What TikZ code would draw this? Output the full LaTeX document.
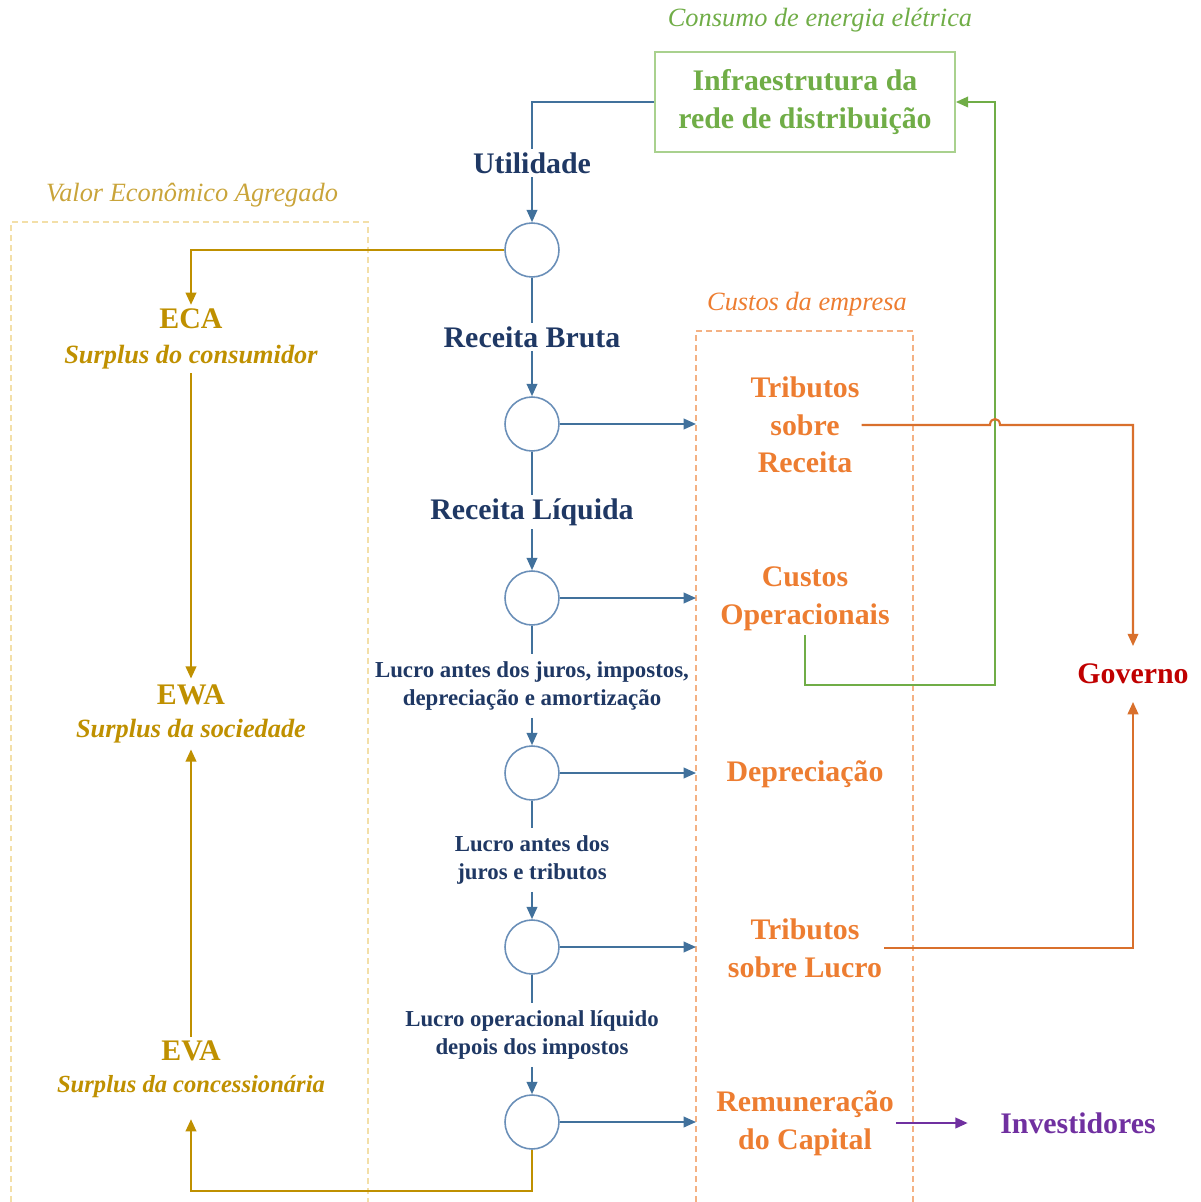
\documentclass[tikz,border=0pt]{standalone}
\usepackage{fontspec}
\setmainfont{Liberation Serif}
\usetikzlibrary{arrows.meta,calc}
\definecolor{navy}{HTML}{1F3864}
\definecolor{steel}{HTML}{41719C}
\definecolor{ringc}{HTML}{6A8FB8}
\definecolor{gold}{HTML}{BF9000}
\definecolor{goldlight}{HTML}{F3DFA8}
\definecolor{goldtitle}{HTML}{C9A43A}
\definecolor{orangeT}{HTML}{ED7D31}
\definecolor{orangeL}{HTML}{D9702C}
\definecolor{orangelight}{HTML}{F4B183}
\definecolor{greenT}{HTML}{70AD47}
\definecolor{greenB}{HTML}{A9D18E}
\definecolor{redG}{HTML}{C00000}
\definecolor{purp}{HTML}{7030A0}

\begin{document}
\begin{tikzpicture}[x=0.02cm,y=-0.02cm,
  tip/.style={-{Triangle[length=7pt,width=6pt]}},
  bline/.style={draw=steel,line width=1.1pt},
  gline/.style={draw=gold,line width=1.3pt},
  oline/.style={draw=orangeL,line width=1.2pt},
  grline/.style={draw=greenT,line width=1.2pt},
  pline/.style={draw=purp,line width=1.2pt},
  big/.style={font=\fontsize{17}{21.5}\selectfont\bfseries,align=center,inner xsep=1pt,inner ysep=2pt},
  small/.style={font=\fontsize{13}{16}\selectfont\bfseries,align=center,inner xsep=1pt,inner ysep=4pt},
  ttl/.style={font=\fontsize{15}{18}\selectfont\itshape},
  ring/.style={circle,draw=ringc,line width=0.9pt,minimum size=1.08cm,inner sep=0pt},
  valbox/.style={align=center,text=gold,inner sep=2pt,font=\bfseries},
  costbox/.style={dash pattern=on 3.4pt off 2.3pt,line width=0.6pt}
]
\useasboundingbox (0,0) rectangle (1200,1202);

% group frames
\draw[costbox,draw=goldlight] (11,1202) -- (11,222) -- (368,222) -- (368,1202);
\draw[costbox,draw=orangelight] (696,1202) -- (696,331) coordinate (cbx) -- (913,331) -- (913,1202);

% group titles
\node[ttl,text=greenT] (tconsumo) at (820,20) {Consumo de energia elétrica};
\node[ttl,text=goldtitle] (tvalor) at (192,195) {Valor Econômico Agregado};
\node[ttl,text=orangeT] (tcustos) at (807,304) {Custos da empresa};

% network infrastructure
\node[big,text=greenT,draw=greenB,line width=1pt,minimum width=6cm,minimum height=2cm] (infra) at (805,102)
  {Infraestrutura da\\rede de distribuição};

% main chain of results
\node[big,text=navy] (util) at (532,163) {Utilidade};
\node[ring] (c1) at (532,250) {};
\node[big,text=navy] (rb) at (532,337) {Receita Bruta};
\node[ring] (c2) at (532,424) {};
\node[big,text=navy] (rl) at (532,512) {Receita Líquida};
\node[ring] (c3) at (532,598) {};
\node[small,text=navy] (ebitda) at (532,686) {Lucro antes dos juros, impostos,\\depreciação e amortização};
\node[ring] (c4) at (532,773) {};
\node[small,text=navy] (lajir) at (532,860) {Lucro antes dos\\juros e tributos};
\node[ring] (c5) at (532,947) {};
\node[small,text=navy] (nopat) at (532,1035) {Lucro operacional líquido\\depois dos impostos};
\node[ring] (c6) at (532,1122) {};

% company costs
\node[big,text=orangeT] (tsr) at (805,425) {Tributos\\sobre\\Receita};
\node[big,text=orangeT] (cop) at (805,599) {Custos\\Operacionais};
\node[big,text=orangeT] (dep) at (805,774) {Depreciação};
\node[big,text=orangeT] (tsl) at (805,948) {Tributos\\sobre Lucro};
\node[big,text=orangeT] (rem) at (805,1123) {Remuneração\\do Capital};

% recipients
\node[big,text=redG,inner ysep=10pt] (gov) at (1133,674) {Governo};
\node[big,text=purp,minimum width=4.4cm] (inv) at (1078,1123) {Investidores};

% economic value added
\node[valbox,minimum height=1.34cm] (eca) at (191,339)
  {\fontsize{17}{20}\selectfont ECA\\[8pt]\fontsize{15}{18}\selectfont\itshape Surplus do consumidor};
\node[valbox,minimum height=1.4cm] (ewa) at (191,714)
  {\fontsize{17}{20}\selectfont EWA\\[7pt]\fontsize{15}{18}\selectfont\itshape Surplus da sociedade};
\node[valbox,minimum height=1.2cm] (eva) at (191,1069)
  {\fontsize{17}{20}\selectfont EVA\\[6pt]\fontsize{14}{17}\selectfont\itshape Surplus da concessionária};

% chain connectors
\draw[bline] (infra.west) -| (util.north);
\draw[bline,tip] (util.south) -- (c1.north);
\draw[bline] (c1.south) -- (rb.north);
\draw[bline,tip] (rb.south) -- (c2.north);
\draw[bline] (c2.south) -- (rl.north);
\draw[bline,tip] (rl.south) -- (c3.north);
\draw[bline] (c3.south) -- (ebitda.north);
\draw[bline,tip] (ebitda.south) -- (c4.north);
\draw[bline] (c4.south) -- (lajir.north);
\draw[bline,tip] (lajir.south) -- (c5.north);
\draw[bline] (c5.south) -- (nopat.north);
\draw[bline,tip] (nopat.south) -- (c6.north);

% outflows to costs
\draw[bline,tip] (c2.east) -- (c2 -| cbx);
\draw[bline,tip] (c3.east) -- (c3 -| cbx);
\draw[bline,tip] (c4.east) -- (c4 -| cbx);
\draw[bline,tip] (c5.east) -- (c5 -| cbx);
\draw[bline,tip] (c6.east) -- (c6 -| cbx);

% operating costs feed back to the infrastructure
\coordinate (g1) at (995,685);
\draw[grline,tip] (cop.south) |- (g1) |- (infra.east);

% taxes to government (hop over the green line)
\coordinate (jL) at ($(tsr.east -| g1)+(-5,0)$);
\coordinate (jR) at ($(tsr.east -| g1)+(5,0)$);
\draw[oline,tip] (tsr.east) -- (jL) .. controls +(0,-8) and +(0,-8) .. (jR) -| (gov.north);
\draw[oline,tip] (tsl.east) -| (gov.south);

% capital remuneration to investors
\draw[pline,tip] (rem.east) -- (inv.west);

% value added links
\draw[gline,tip] (c1.west) -| (eca.north);
\draw[gline,tip] (eca.south) -- (ewa.north);
\draw[gline,tip] (eva.north) -- (ewa.south);
\draw[gline,tip] (c6.south) -- ++(0,41) -| ($(eva.south)+(0,18)$);
\end{tikzpicture}
\end{document}
